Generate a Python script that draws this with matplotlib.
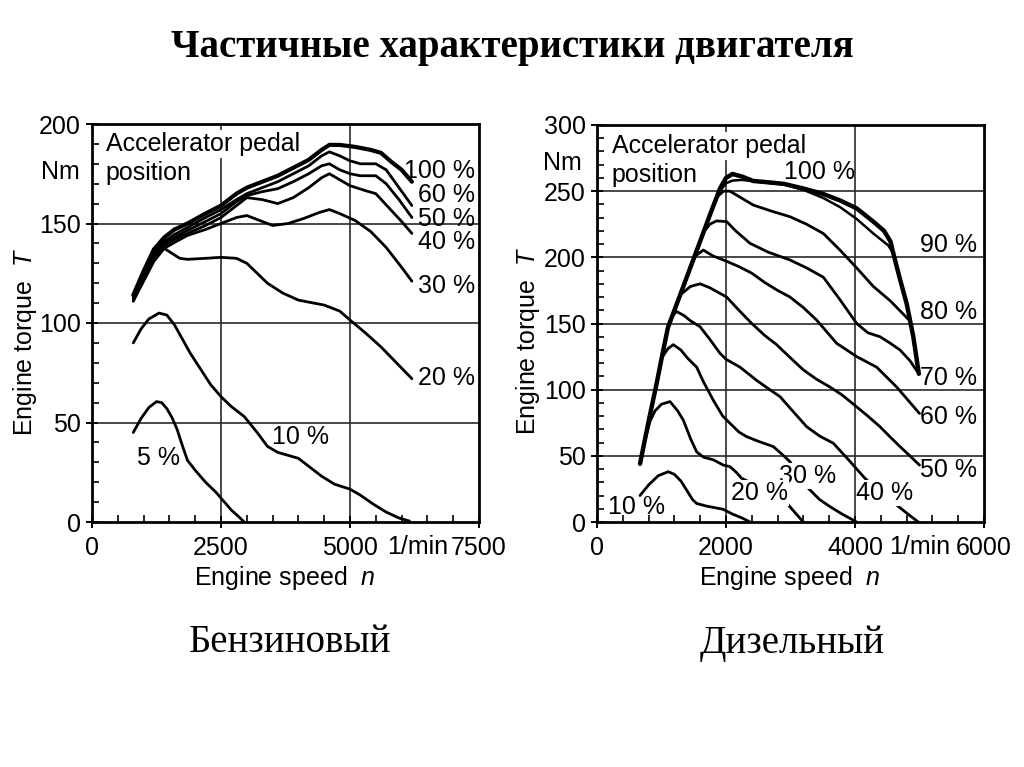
import matplotlib
matplotlib.use("Agg")
import matplotlib.pyplot as plt
from matplotlib.ticker import MultipleLocator
import matplotlib.transforms as mtransforms

plt.rcParams['font.family'] = ['Liberation Sans', 'DejaVu Sans']
plt.rcParams['mathtext.fontset'] = 'custom'
plt.rcParams['mathtext.it'] = 'Liberation Sans:italic'
plt.rcParams['mathtext.rm'] = 'Liberation Sans'

# ---------------- Petrol engine (left) ----------------
p100_x = [800, 1000, 1200, 1400, 1600, 1850, 2200, 2500, 2800, 3000, 3300, 3600, 3900, 4200, 4450, 4600, 4800, 5100, 5400, 5600, 5800, 6000, 6200]
p100_y = [114, 126, 137, 143, 147, 150, 155, 159, 165, 168, 171, 174, 178, 182, 187, 189.5, 189.5, 188.5, 187, 185.5, 181, 177, 171]
p60_x = [800, 1000, 1200, 1400, 1600, 1850, 2200, 2500, 2800, 3000, 3300, 3600, 3900, 4200, 4450, 4600, 4800, 5000, 5200, 5500, 5700, 5950, 6200]
p60_y = [113, 125, 135, 141, 144.5, 148, 153, 157, 162, 165, 168, 171, 175, 179, 184, 186, 184, 181.5, 180, 180, 177, 168, 159]
p50_x = [800, 1000, 1200, 1400, 1600, 1850, 2200, 2500, 2800, 3000, 3300, 3600, 3900, 4200, 4450, 4600, 4800, 5000, 5200, 5500, 5700, 5950, 6200]
p50_y = [112.5, 124, 134, 140, 143, 146.5, 151, 155, 161, 164, 166, 167.5, 171, 175, 179, 180, 177, 175, 174, 174, 170, 162, 153]
p40_x = [800, 1000, 1200, 1400, 1600, 1850, 2200, 2500, 2800, 3000, 3300, 3600, 3900, 4200, 4450, 4600, 4800, 5000, 5300, 5500, 5750, 6000, 6200]
p40_y = [112, 123, 133, 139, 142, 145, 149, 153, 159, 163, 162, 160, 163, 168, 173, 175, 172, 169, 166.5, 165, 158, 151, 145]
p30_x = [800, 1000, 1200, 1400, 1600, 1850, 2200, 2500, 2800, 3000, 3200, 3500, 3800, 4100, 4400, 4600, 4800, 5100, 5400, 5700, 6000, 6200]
p30_y = [111, 121, 131, 137.5, 140.5, 144, 147, 150, 153, 154, 152, 149, 150, 152.5, 155.5, 157, 155, 151.5, 146, 138, 128, 121]
p20_x = [800, 950, 1100, 1250, 1400, 1550, 1700, 1850, 2200, 2500, 2800, 3000, 3200, 3400, 3700, 4000, 4300, 4500, 4800, 5000, 5300, 5600, 5900, 6200]
p20_y = [111, 120, 129, 135.5, 137.5, 135, 132.5, 132, 132.5, 133, 132.5, 130, 125, 120, 115, 111.5, 110, 109, 106, 101.5, 95, 88, 80, 72]
p10_x = [800, 950, 1100, 1300, 1450, 1600, 1750, 1900, 2100, 2300, 2500, 2700, 2950, 3200, 3400, 3600, 3800, 4000, 4200, 4450, 4700, 5000, 5200, 5450, 5700, 5950, 6150]
p10_y = [90, 97, 102, 105, 104, 99, 92, 85, 77, 69, 63, 58, 53, 45, 38, 35, 33.5, 32, 28, 23, 19, 16.5, 13.5, 9, 5, 2, 0.5]
p5_x = [800, 950, 1100, 1250, 1350, 1450, 1550, 1650, 1750, 1850, 2000, 2200, 2400, 2550, 2700, 2850, 2950]
p5_y = [45, 52, 57.5, 60.5, 60, 57, 52.5, 46.5, 38.5, 31, 26, 20, 15, 10.5, 6, 2.5, 0]

petrol_curves = [(p100_x, p100_y, 3.0), (p60_x, p60_y, 2.0), (p50_x, p50_y, 2.0), (p40_x, p40_y, 2.0),
                 (p30_x, p30_y, 2.0), (p20_x, p20_y, 2.0), (p10_x, p10_y, 2.0), (p5_x, p5_y, 2.0)]
petrol_labels = ['100 %', '60 %', '50 %', '40 %', '30 %', '20 %', '10 %', '5 %']
petrol_label_x = [7420, 7420, 7420, 7420, 7420, 7420, 4035, 1293]
petrol_label_y = [176.4, 164.3, 152.3, 140.7, 118.6, 72.4, 42.5, 32.2]

# ---------------- Diesel engine (right) ----------------
d100_x = [667, 800, 926, 1003, 1100, 1200, 1300, 1545, 1750, 1907, 2000, 2100, 2250, 2423, 2700, 2900, 3200, 3500, 3767, 4026, 4284, 4450, 4550, 4594, 4700, 4801, 4904, 4990]
d100_y = [44, 76, 105, 124, 147, 160, 173, 205, 232, 252, 260, 263, 261, 257.7, 256.5, 255.5, 252, 248, 243, 237, 227, 220, 212, 203, 183, 165, 140, 112]
d90_x = [667, 800, 926, 1003, 1100, 1200, 1300, 1545, 1750, 1907, 2000, 2100, 2250, 2423, 2700, 2900, 3200, 3500, 3767, 4026, 4284, 4516, 4594, 4700, 4801, 4904, 4990]
d90_y = [44, 76, 105, 124, 147, 160, 173, 205, 232, 250, 256, 258, 258.5, 257.5, 256, 255, 251, 245, 238, 229, 218, 209, 203, 183, 165, 140, 112]
d80_x = [667, 800, 926, 1003, 1100, 1200, 1300, 1545, 1750, 1870, 1960, 2060, 2200, 2423, 2700, 2992, 3250, 3509, 3767, 4026, 4284, 4550, 4830]
d80_y = [44, 76, 105, 124, 147, 160, 173, 205, 232, 246, 250, 250, 246, 239.5, 235, 230.7, 225, 218, 205.5, 192, 178, 167, 153]
d70_x = [667, 800, 926, 1003, 1100, 1200, 1300, 1545, 1650, 1750, 1850, 2010, 2150, 2372, 2650, 2992, 3250, 3509, 3767, 4026, 4200, 4388, 4550, 4698, 4850, 4990]
d70_y = [44, 76, 105, 124, 147, 160, 173, 205, 219, 225, 227.5, 227, 220, 210.6, 204, 198, 192, 185, 168, 150, 143, 140, 135, 130, 122, 112]
d60_x = [667, 800, 926, 1003, 1100, 1200, 1300, 1500, 1648, 1800, 2010, 2200, 2400, 2600, 2800, 2992, 3200, 3405, 3716, 4026, 4336, 4646, 5000]
d60_y = [44, 76, 105, 124, 147, 160, 173, 200, 205.5, 201, 197, 193, 188, 181, 175, 170, 162, 152.6, 135, 125, 117, 102, 82]
d50_x = [667, 800, 926, 1003, 1100, 1200, 1300, 1450, 1597, 1750, 2010, 2200, 2400, 2600, 2785, 3000, 3198, 3400, 3612, 3800, 4026, 4200, 4388, 4550, 4698, 4850, 5000]
d50_y = [44, 76, 105, 124, 147, 160, 172, 178, 180, 177, 170, 160, 150, 141, 134, 124, 115, 108, 102, 96, 87, 80, 72, 64, 57, 50, 43]
d40_x = [667, 800, 926, 1003, 1100, 1170, 1235, 1350, 1450, 1597, 1750, 1907, 2000, 2217, 2476, 2650, 2838, 3050, 3251, 3450, 3664, 3900, 4155, 4400, 4646, 4820, 4982]
d40_y = [44, 76, 105, 124, 148, 156, 159, 156, 152, 147.6, 138, 127.5, 123, 117, 107, 101, 94.7, 83, 72, 65, 59.5, 47, 33, 22, 12.8, 6, 0]
d30_x = [667, 800, 926, 1003, 1100, 1183, 1300, 1400, 1545, 1650, 1803, 1950, 2062, 2200, 2320, 2500, 2733, 2850, 2992, 3150, 3276, 3450, 3612, 3800, 4026]
d30_y = [44, 76, 105, 124, 131, 134, 130, 124, 117, 106, 92, 80, 74.6, 68, 64.5, 61, 57, 52, 45.6, 33, 25.5, 17, 11.6, 6, 0]
d20_x = [667, 750, 822, 900, 1000, 1132, 1250, 1338, 1450, 1545, 1650, 1803, 1958, 2062, 2150, 2243, 2500, 2700, 2863, 3000, 3198]
d20_y = [44, 63, 76, 84, 89, 91, 84, 77, 63, 53, 49, 47, 43, 41.8, 38, 33, 27, 22, 19, 11, 0]
d10_x = [667, 800, 950, 1106, 1200, 1300, 1391, 1480, 1545, 1700, 1958, 2100, 2250, 2372]
d10_y = [20, 28, 35, 38, 36, 31, 24, 17, 14, 12, 9.6, 6, 3, 0]

diesel_curves = [(d90_x, d90_y, 1.8), (d80_x, d80_y, 2.0), (d70_x, d70_y, 2.0), (d60_x, d60_y, 2.0),
                 (d50_x, d50_y, 2.0), (d40_x, d40_y, 2.0), (d30_x, d30_y, 2.0), (d20_x, d20_y, 2.0),
                 (d10_x, d10_y, 2.0), (d100_x, d100_y, 3.2)]
diesel_labels = ['100 %', '90 %', '80 %', '70 %', '60 %', '50 %', '40 %', '30 %', '20 %', '10 %']
diesel_label_x = [3457, 5890, 5890, 5890, 5890, 5890, 4465, 3271, 2527, 620]
diesel_label_y = [264.5, 209.3, 158.7, 108.8, 79.3, 39.3, 21.9, 34.8, 21.9, 11.3]
diesel_label_ha = ['center', 'right', 'right', 'right', 'right', 'right', 'center', 'center', 'center', 'center']
diesel_label_mask = [False, False, False, False, False, False, True, True, True, False]

W, H = 1024, 767
fig = plt.figure(figsize=(W / 100, H / 100), dpi=100)


def px_rect(x0, x1, ytop, ybot):
    return [x0 / W, 1 - ybot / H, (x1 - x0) / W, (ybot - ytop) / H]


FS = 18
GRID_C = '#2a2a2a'


def style_axes(ax, xmax, ymax, xmajor, xminor, ymajor, yminor):
    ax.set_xlim(0, xmax)
    ax.set_ylim(0, ymax)
    ax.xaxis.set_major_locator(MultipleLocator(xmajor))
    ax.xaxis.set_minor_locator(MultipleLocator(xminor))
    ax.yaxis.set_major_locator(MultipleLocator(ymajor))
    ax.yaxis.set_minor_locator(MultipleLocator(yminor))
    ax.tick_params(which='major', direction='inout', length=8, width=1.4, labelsize=FS, pad=4)
    ax.tick_params(axis='x', which='major', pad=6)
    ax.tick_params(which='minor', direction='in', length=5, width=1.2)
    for s in ax.spines.values():
        s.set_linewidth(2.0)
        s.set_color('black')
    ax.set_facecolor('white')


# ---------- Left axes ----------
axL = fig.add_axes(px_rect(92, 479, 124, 522))
style_axes(axL, 7500, 200, 2500, 500, 50, 10)
for yy in [50, 100, 150]:
    axL.axhline(yy, color=GRID_C, lw=1.2, zorder=1)
for xx in [2500, 5000]:
    axL.axvline(xx, color=GRID_C, lw=1.2, zorder=1)
for (cx, cy, lw) in petrol_curves:
    axL.plot(cx, cy, color='black', lw=lw, solid_capstyle='round', solid_joinstyle='round', zorder=3)
for lab, lx, ly in zip(petrol_labels, petrol_label_x, petrol_label_y):
    ha = 'right' if lx > 7000 else 'center'
    axL.text(lx, ly, lab, fontsize=FS, ha=ha, va='center', zorder=5)
axL.text(270, 190, 'Accelerator pedal', fontsize=FS, ha='left', va='center', zorder=4,
         bbox=dict(facecolor='white', edgecolor='none', pad=1.5))
axL.text(270, 175.5, 'position', fontsize=FS, ha='left', va='center', zorder=4)
axL.text(-0.031, 176, 'Nm', transform=mtransforms.blended_transform_factory(axL.transAxes, axL.transData),
         fontsize=FS, ha='right', va='center')

# ---------- Right axes ----------
axR = fig.add_axes(px_rect(597, 984, 125, 522))
style_axes(axR, 6000, 300, 2000, 400, 50, 10)
for yy in [50, 100, 150, 200, 250]:
    axR.axhline(yy, color=GRID_C, lw=1.2, zorder=1)
for xx in [2000, 4000]:
    axR.axvline(xx, color=GRID_C, lw=1.2, zorder=1)
for (cx, cy, lw) in diesel_curves:
    axR.plot(cx, cy, color='black', lw=lw, solid_capstyle='round', solid_joinstyle='round', zorder=3)
for lab, lx, ly, ha, mk in zip(diesel_labels, diesel_label_x, diesel_label_y, diesel_label_ha, diesel_label_mask):
    kw = dict(bbox=dict(facecolor='white', edgecolor='none', pad=0.5)) if mk else {}
    axR.text(lx, ly, lab, fontsize=FS, ha=ha, va='center', zorder=5, **kw)
axR.text(230, 284, 'Accelerator pedal', fontsize=FS, ha='left', va='center', zorder=4,
         bbox=dict(facecolor='white', edgecolor='none', pad=1.5))
axR.text(230, 262.5, 'position', fontsize=FS, ha='left', va='center', zorder=4)
axR.text(-0.039, 271, 'Nm', transform=mtransforms.blended_transform_factory(axR.transAxes, axR.transData),
         fontsize=FS, ha='right', va='center')

# ---------- axis labels ----------
fig.text(418 / W, 1 - 547 / H, '1/min', fontsize=FS, ha='center', va='center')
fig.text(920 / W, 1 - 547 / H, '1/min', fontsize=FS, ha='center', va='center')
fig.text(285 / W, 1 - 578 / H, 'Engine speed  $n$', fontsize=FS, ha='center', va='center')
fig.text(790 / W, 1 - 578 / H, 'Engine speed  $n$', fontsize=FS, ha='center', va='center')
fig.text(25 / W, 1 - 342 / H, 'Engine torque  $T$', fontsize=FS, ha='center', va='center', rotation=90)
fig.text(528 / W, 1 - 341 / H, 'Engine torque  $T$', fontsize=FS, ha='center', va='center', rotation=90)

# ---------- titles ----------
fig.text(0.5, 1 - 48 / H, 'Частичные характеристики двигателя', fontsize=28,
         fontfamily=['Liberation Serif', 'DejaVu Serif'], fontweight='bold', ha='center', va='center')
fig.text(290 / W, 1 - 643 / H, 'Бензиновый', fontsize=28,
         fontfamily=['Liberation Serif', 'DejaVu Serif'], ha='center', va='center')
fig.text(792 / W, 1 - 643 / H, 'Дизельный', fontsize=28,
         fontfamily=['Liberation Serif', 'DejaVu Serif'], ha='center', va='center')

fig.savefig('out.png', dpi=100, facecolor='white')
